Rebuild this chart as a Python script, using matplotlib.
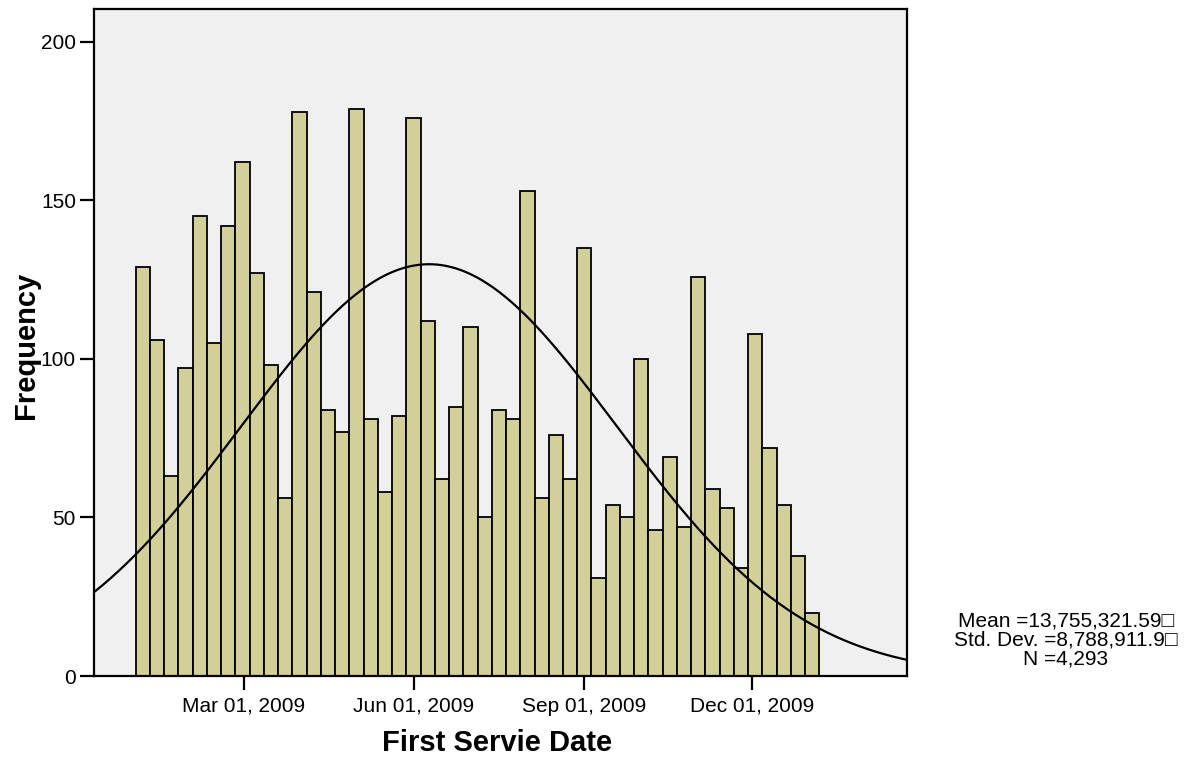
from datetime import datetime, timedelta

import numpy as np
import matplotlib
matplotlib.use("Agg")
import matplotlib.pyplot as plt
import matplotlib.dates as mdates

plt.rcParams['font.family'] = ['Liberation Sans', 'DejaVu Sans']

# Weekly-ish histogram counts of first service date (2009)
counts = [129, 106, 63, 97, 145, 105, 142, 162, 127, 98, 56, 178, 121, 84, 77, 179,
          81, 58, 82, 176, 112, 62, 85, 110, 50, 84, 81, 153, 56, 76, 62, 135,
          31, 54, 50, 100, 46, 69, 47, 126, 59, 53, 34, 108, 72, 54, 38, 20]
first_bin = datetime(2009, 1, 1, 8)
bin_days = 7.715

# summary stats as reported (seconds relative to 2009-01-01)
origin = datetime(2009, 1, 1)
mean_sec = 13755321.59
sd_sec = 8788911.9
n_total = 4293

tick_dates = [datetime(2009, 3, 1), datetime(2009, 6, 1),
              datetime(2009, 9, 1), datetime(2009, 12, 1)]
y_ticks = [0, 50, 100, 150, 200]
x_lo = datetime(2008, 12, 9, 17)
x_hi = datetime(2010, 2, 23, 7)

fig = plt.figure(figsize=(11.91, 7.58), dpi=100)
ax = fig.add_axes([94 / 1191, 82 / 758, (907.3 - 94) / 1191, (676 - 9) / 758])
ax.set_facecolor('#f0f0f0')

start = mdates.date2num(first_bin)
lefts = start + bin_days * np.arange(len(counts))
ax.bar(lefts, counts, width=bin_days, align='edge', color='#d3cf98',
       edgecolor='black', linewidth=1.3, zorder=2)

# normal curve scaled to counts
x0, x1 = mdates.date2num(x_lo), mdates.date2num(x_hi)
xs = np.linspace(x0, x1, 400)
mu = mdates.date2num(origin + timedelta(seconds=mean_sec))
sd = sd_sec / 86400
ys = n_total * bin_days / (sd * np.sqrt(2 * np.pi)) * np.exp(-0.5 * ((xs - mu) / sd) ** 2)
ax.plot(xs, ys, color='black', linewidth=1.6, zorder=3)

ax.set_xlim(x0, x1)
ax.set_ylim(0, 210.4)
ax.set_xticks([mdates.date2num(d) for d in tick_dates])
ax.xaxis.set_major_formatter(mdates.DateFormatter('%b %d, %Y'))
ax.set_yticks(y_ticks)
ax.tick_params(axis='both', labelsize=15, width=1.6, length=10, direction='out')
ax.tick_params(axis='x', pad=5)
ax.tick_params(axis='y', pad=3)

for s in ax.spines.values():
    s.set_linewidth(1.6)
    s.set_color('black')

ax.set_xlabel('First Servie Date', fontsize=21, fontweight='bold')
ax.set_ylabel('Frequency', fontsize=21, fontweight='bold')
ax.xaxis.label.set_va('center')
ax.yaxis.label.set_va('center')
ax.xaxis.set_label_coords((497.5 - 94) / 813.3, (676 - 743) / 667)
ax.yaxis.set_label_coords((26 - 94) / 813.3, (676 - 345) / 667)

stats = ['Mean =13,755,321.59\u25a1', 'Std. Dev. =8,788,911.9\u25a1', 'N =4,293']
for i, line in enumerate(stats):
    fig.text(1066 / 1191, 1 - (621 + 19 * i) / 758, line, fontsize=15,
             ha='center', va='center')

fig.savefig('out.png', dpi=100)
